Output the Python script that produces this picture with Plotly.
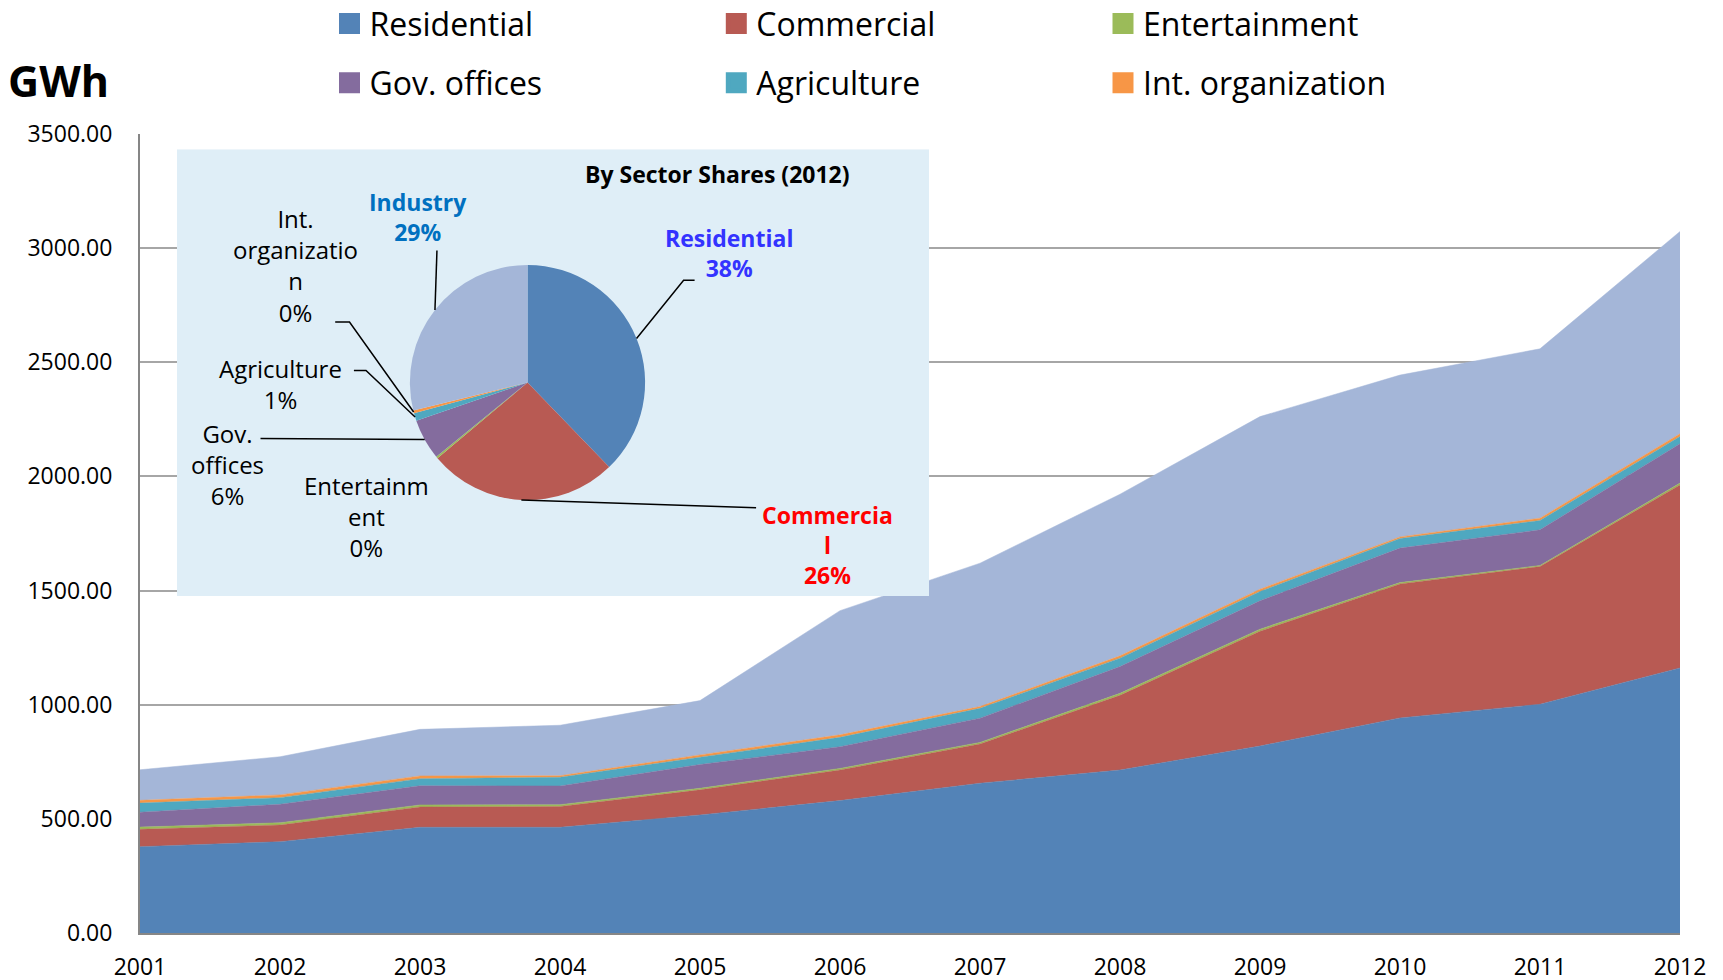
import math
import plotly.graph_objects as go

# GWh by sector
years = [2001, 2002, 2003, 2004, 2005, 2006, 2007, 2008, 2009, 2010, 2011, 2012]
residential = [378, 400, 463, 463, 517, 580, 656, 714, 819, 942, 1002, 1161]
commercial = [76, 73, 89, 91, 110, 134, 172, 327, 503, 587, 603, 802]
entertainment = [10, 10, 9, 8, 7, 7, 7, 9, 9, 6, 5, 8]
gov_offices = [65, 81, 84, 82, 104, 95, 106, 117, 124, 151, 156, 172]
agriculture = [40, 29, 31, 38, 32, 41, 43, 37, 41, 42, 41, 32]
int_organization = [12, 12, 12, 7, 10, 11, 8, 10, 10, 7, 10, 12]
industry = [134, 167, 204, 221, 238, 544, 628, 708, 756, 709, 742, 886]

sectors = ['Residential', 'Commercial', 'Entertainment', 'Gov. offices',
           'Agriculture', 'Int. organization', 'Industry']
series = [residential, commercial, entertainment, gov_offices,
          agriculture, int_organization, industry]
colors = ['#5383B7', '#B85A53', '#9BBB59', '#846C9E', '#4FA8C0', '#F79646', '#A4B6D8']

FONT = 'Open Sans'
W, H = 1723, 980
OFF = 8  # page body margin
# plot area edges in page pixels
L, R, T, B = 140, 1680, 134, 933


def px(x):
    return (x - L) / (R - L)


def py(y):
    return (B - y) / (B - T)


fig = go.Figure()

# stacked areas
for name, vals, col in zip(sectors, series, colors):
    fig.add_trace(go.Scatter(
        x=years, y=vals, name=name, stackgroup='one', mode='lines',
        line=dict(width=0.5, color=col), fillcolor=col, showlegend=False,
    ))

# legend entries (two rows of three, industry not listed)
legend_spots = [(349.5, 23.6), (736.3, 23.6), (1123, 23.6),
                (349.5, 83), (736.3, 83), (1123, 83)]
for i, (name, col) in enumerate(zip(sectors[:6], colors[:6])):
    key = 'legend' if i == 0 else 'legend%d' % (i + 1)
    fig.add_trace(go.Scatter(
        x=[None], y=[None], mode='markers', name=name, legend=key,
        marker=dict(symbol='square', size=16, color=col, line=dict(width=5, color=col)),
    ))
    mx, my = legend_spots[i]
    fig.update_layout({key: dict(
        x=px(mx - 20), y=py(my), xanchor='left', yanchor='middle',
        bgcolor='rgba(0,0,0,0)', font=dict(family=FONT, size=32, color='black'),
        itemclick=False,
    )})

# inset background
box = (177, 149.3, 929, 596)
fig.add_trace(go.Scatter(
    x=[0, 1, 1, 0], y=[0, 0, 1, 1], fill='toself', mode='none',
    fillcolor='#DFEEF7', xaxis='x2', yaxis='y2', showlegend=False, hoverinfo='skip',
))

# pie of 2012 shares
shares = [s[-1] for s in series]
total = sum(shares)
cx, cy, rad = 527.5, 382.5, 117.6
fig.add_trace(go.Pie(
    labels=sectors, values=shares, sort=False, direction='clockwise', rotation=0,
    marker=dict(colors=colors, line=dict(width=0)), textinfo='none',
    showlegend=False,
    domain=dict(x=[px(cx - rad), px(cx + rad)], y=[py(cy + rad), py(cy - rad)]),
))


def edge(i):
    mid = (sum(shares[:i]) + shares[i] / 2) / total
    th = 2 * math.pi * mid
    return cx + rad * math.sin(th), cy - rad * math.cos(th)


def pct(i):
    return '%d%%' % round(100 * shares[i] / total)


leaders = [
    [(694.6, 280.2), (683.6, 280.2), edge(0)],
    [(756.1, 507.7), edge(1)],
    [(edge(6)[0] + 2, 250.6), edge(6)],
    [(335.2, 322), (349.5, 322), edge(5)],
    [(353.9, 370.4), (366, 370.4), edge(4)],
    [(260.5, 438.5), edge(3)],
]
shapes = []
for pts in leaders:
    path = 'M' + ' L'.join('%.5f,%.5f' % (px(x), py(y)) for x, y in pts)
    shapes.append(dict(type='path', path=path, xref='paper', yref='paper',
                       line=dict(color='black', width=1.5), layer='above'))

labels = [
    ('<b>By Sector Shares (2012)</b>', 717.6, 173.6, 'black', 23),
    ('<b>Residential<br>%s</b>' % pct(0), 728.6, 252.8, '#3333FF', 23),
    ('<b>Industry<br>%s</b>' % pct(6), 417.6, 216.5, '#0070C0', 23),
    ('<b>Commercia<br>l<br>%s</b>' % pct(1), 827.5, 545, '#FF0000', 23),
    ('Int.<br>organizatio<br>n<br>%s' % pct(5), 295.6, 265.4, 'black', 24),
    ('Agriculture<br>%s' % pct(4), 280, 383.5, 'black', 24),
    ('Gov.<br>offices<br>%s' % pct(3), 227.5, 464, 'black', 24),
    ('Entertainm<br>ent<br>%s' % pct(2), 366, 516.5, 'black', 24),
    ('<b>GWh</b>', 58, 80, 'black', 43),
]
annotations = [dict(text=t, x=px(x), y=py(y), xref='paper', yref='paper',
                    showarrow=False, xanchor='center', yanchor='middle',
                    font=dict(family=FONT, size=s, color=c))
               for t, x, y, c, s in labels]

fig.update_layout(
    width=W, height=H,
    margin=dict(l=L - OFF, r=W - (R - OFF), t=T - OFF, b=H - (B - OFF), autoexpand=False),
    paper_bgcolor='white', plot_bgcolor='white',
    font=dict(family=FONT, color='black'),
    xaxis=dict(range=[2001, 2012], tickvals=years, showgrid=False, zeroline=False,
               showline=True, linecolor='#868686', linewidth=2,
               tickfont=dict(size=23), ticklabelstandoff=12),
    yaxis=dict(range=[0, 3500], dtick=500, tickformat='.2f', showgrid=True,
               gridcolor='#A6A6A6', gridwidth=2, zeroline=False,
               showline=True, linecolor='#868686', linewidth=2,
               tickfont=dict(size=23), ticklabelstandoff=21),
    xaxis2=dict(domain=[px(box[0]), px(box[2])], range=[0, 1], visible=False,
                anchor='y2', fixedrange=True),
    yaxis2=dict(domain=[py(box[3]), py(box[1])], range=[0, 1], visible=False,
                anchor='x2', fixedrange=True),
    shapes=shapes,
    annotations=annotations,
)

fig.write_html('out.html')
